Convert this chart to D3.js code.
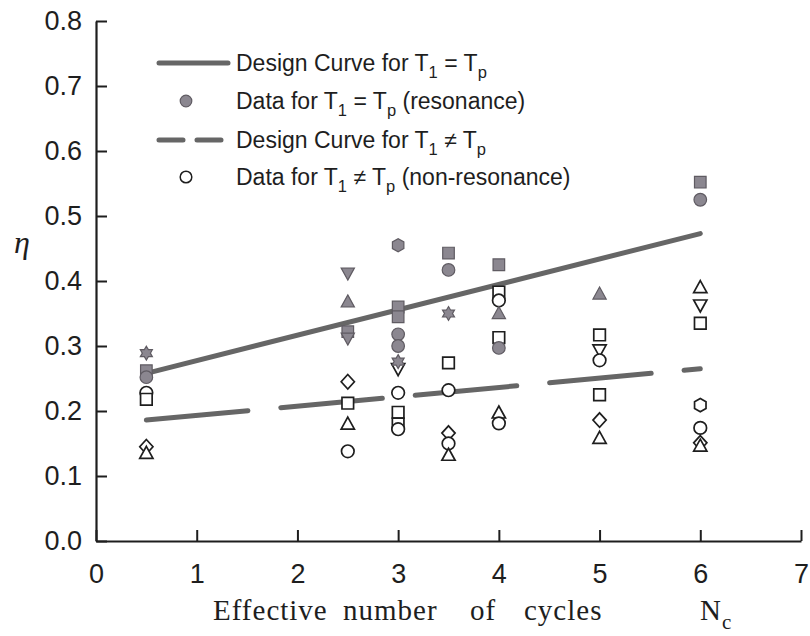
<!DOCTYPE html>
<html>
<head>
<meta charset="utf-8">
<script src="https://cdn.jsdelivr.net/npm/d3@7/dist/d3.min.js"></script>
<style>
  html, body { margin: 0; padding: 0; background: #fff; }
  svg { display: block; }
  .tick text { font-family: 'Liberation Sans', Arial, sans-serif; font-size: 27px; }
</style>
</head>
<body>
<svg id="chart" width="810" height="636"></svg>
<script>
// Axis ticks
const xTicks = [0, 1, 2, 3, 4, 5, 6, 7];
const yTicks = [0.0, 0.1, 0.2, 0.3, 0.4, 0.5, 0.6, 0.7, 0.8];

// Design curves (straight lines between the end points)
const designX = [0.5, 6];
const designResonance = [0.258, 0.473];
const designNonResonance = [0.186, 0.265];

// Test data: [Nc, eta, marker]
const resonanceData = [
  [0.5, 0.289, "star6"], [0.5, 0.262, "square"], [0.5, 0.252, "circle"],
  [2.5, 0.412, "triangleDown"], [2.5, 0.368, "triangle"], [2.5, 0.322, "square"], [2.5, 0.312, "triangleDown"],
  [3, 0.455, "hexagon"], [3, 0.360, "square"], [3, 0.345, "square"], [3, 0.318, "circle"], [3, 0.300, "circle"], [3, 0.276, "star6"],
  [3.5, 0.443, "square"], [3.5, 0.417, "circle"], [3.5, 0.350, "star6"],
  [4, 0.425, "square"], [4, 0.350, "triangle"], [4, 0.297, "circle"],
  [5, 0.380, "triangle"],
  [6, 0.552, "square"], [6, 0.525, "circle"]
];
const nonResonanceData = [
  [0.5, 0.228, "circle"], [0.5, 0.218, "square"], [0.5, 0.145, "diamond"], [0.5, 0.135, "triangle"],
  [2.5, 0.245, "diamond"], [2.5, 0.212, "square"], [2.5, 0.180, "triangle"], [2.5, 0.138, "circle"],
  [3, 0.265, "triangleDown"], [3, 0.228, "circle"], [3, 0.198, "square"], [3, 0.180, "square"], [3, 0.172, "circle"],
  [3.5, 0.274, "square"], [3.5, 0.232, "circle"], [3.5, 0.166, "diamond"], [3.5, 0.150, "circle"], [3.5, 0.132, "triangle"],
  [4, 0.383, "square"], [4, 0.370, "circle"], [4, 0.313, "square"], [4, 0.197, "triangle"], [4, 0.181, "circle"],
  [5, 0.317, "square"], [5, 0.294, "triangleDown"], [5, 0.278, "circle"], [5, 0.225, "square"], [5, 0.186, "diamond"], [5, 0.158, "triangle"],
  [6, 0.390, "triangle"], [6, 0.363, "triangleDown"], [6, 0.335, "square"], [6, 0.209, "hexagon"], [6, 0.174, "circle"], [6, 0.151, "diamond"], [6, 0.146, "triangle"]
];

const svg = d3.select("#chart");
const x = d3.scaleLinear().domain([0, 7]).range([96, 801]);
const y = d3.scaleLinear().domain([0, 0.8]).range([541, 21]);

const ink = "#1e1e1e";
const lineGrey = "#666";
const fillGrey = "#8b8790";
const edgeGrey = "#5f5b62";
const sans = "'Liberation Sans', Arial, sans-serif";
const serif = "'Liberation Serif', 'Times New Roman', serif";

// Marker shapes as d3 symbol types (size is used as a radius here)
function poly(ctx, pts) {
  ctx.moveTo(pts[0][0], pts[0][1]);
  for (let i = 1; i < pts.length; i++) ctx.lineTo(pts[i][0], pts[i][1]);
  ctx.closePath();
}
const shapes = {
  circle: { draw(ctx, r) { ctx.moveTo(r, 0); ctx.arc(0, 0, r, 0, 2 * Math.PI); } },
  square: { draw(ctx, r) { const s = r * 0.92; poly(ctx, [[-s, -s], [s, -s], [s, s], [-s, s]]); } },
  triangle: { draw(ctx, r) { poly(ctx, [[0, -r * 1.1], [r * 1.05, r * 0.8], [-r * 1.05, r * 0.8]]); } },
  triangleDown: { draw(ctx, r) { poly(ctx, [[0, r * 1.1], [r * 1.05, -r * 0.8], [-r * 1.05, -r * 0.8]]); } },
  diamond: { draw(ctx, r) { poly(ctx, [[0, -r * 1.15], [r * 1.05, 0], [0, r * 1.15], [-r * 1.05, 0]]); } },
  hexagon: { draw(ctx, r) {
    const pts = d3.range(6).map(i => { const a = Math.PI / 6 + i * Math.PI / 3; return [r * 1.05 * Math.cos(a), r * 1.05 * Math.sin(a)]; });
    poly(ctx, pts);
  } },
  star6: { draw(ctx, r) {
    const R = r * 1.1;
    const pts = d3.range(12).map(i => { const a = -Math.PI / 2 + i * Math.PI / 6; const rr = i % 2 ? R * 0.58 : R; return [rr * Math.cos(a), rr * Math.sin(a)]; });
    poly(ctx, pts);
  } }
};
const symbolPath = (name, r) => d3.symbol().type(shapes[name]).size(r)();

// Axes
const yAxis = d3.axisLeft(y).tickValues(yTicks).tickFormat(d3.format(".1f"))
  .tickSizeInner(-11).tickSizeOuter(0).tickPadding(14);
const xAxis = d3.axisBottom(x).tickValues(xTicks).tickFormat(d3.format("d"))
  .tickSizeInner(-11).tickSizeOuter(0).tickPadding(23);

const gy = svg.append("g").attr("transform", "translate(96,0)").call(yAxis);
const gx = svg.append("g").attr("transform", "translate(0,541)").call(xAxis);
[gx, gy].forEach(g => {
  g.attr("font-size", 27).attr("font-family", sans);
  g.select(".domain").attr("stroke", ink).attr("stroke-width", 2.2);
  g.selectAll(".tick line").attr("stroke", ink).attr("stroke-width", 2);
  g.selectAll(".tick text").attr("fill", ink).attr("font-size", 27);
});

// Design curves
const line = d3.line().x(d => x(d[0])).y(d => y(d[1]));
svg.append("path")
  .datum(designX.map((v, i) => [v, designResonance[i]]))
  .attr("d", line).attr("fill", "none").attr("stroke", lineGrey)
  .attr("stroke-width", 5).attr("stroke-linecap", "round");
svg.append("path")
  .datum(designX.map((v, i) => [v, designNonResonance[i]]))
  .attr("d", line).attr("fill", "none").attr("stroke", lineGrey)
  .attr("stroke-width", 5).attr("stroke-linecap", "round")
  .attr("stroke-dasharray", "102,33");

// Data markers: open first, filled on top
svg.append("g").selectAll("path").data(nonResonanceData).join("path")
  .attr("transform", d => `translate(${x(d[0])},${y(d[1])})`)
  .attr("d", d => symbolPath(d[2], 6.3))
  .attr("fill", "#fff").attr("stroke", ink).attr("stroke-width", 1.7);
svg.append("g").selectAll("path").data(resonanceData).join("path")
  .attr("transform", d => `translate(${x(d[0])},${y(d[1])})`)
  .attr("d", d => symbolPath(d[2], 6.3))
  .attr("fill", fillGrey).attr("stroke", edgeGrey).attr("stroke-width", 1.2);

// Legend
const legend = svg.append("g");
const rows = [
  { yy: 63, kind: "solid", parts: ["Design Curve for T", "1", " = T", "p", ""] },
  { yy: 101, kind: "filled", parts: ["Data for T", "1", " = T", "p", "  (resonance)"] },
  { yy: 140, kind: "dashed", parts: ["Design Curve for T", "1", " \u2260 T", "p", ""] },
  { yy: 177, kind: "open", parts: ["Data for T", "1", " \u2260 T", "p", " (non-resonance)"] }
];
rows.forEach(r => {
  if (r.kind === "solid") {
    legend.append("line").attr("x1", 159).attr("x2", 228).attr("y1", r.yy).attr("y2", r.yy)
      .attr("stroke", lineGrey).attr("stroke-width", 5).attr("stroke-linecap", "round");
  } else if (r.kind === "dashed") {
    legend.append("line").attr("x1", 159).attr("x2", 228).attr("y1", r.yy).attr("y2", r.yy)
      .attr("stroke", lineGrey).attr("stroke-width", 5).attr("stroke-linecap", "round")
      .attr("stroke-dasharray", "24,14");
  } else if (r.kind === "filled") {
    legend.append("path").attr("transform", `translate(186,${r.yy})`)
      .attr("d", symbolPath("circle", 5.8)).attr("fill", fillGrey).attr("stroke", edgeGrey).attr("stroke-width", 1.2);
  } else {
    legend.append("path").attr("transform", `translate(186,${r.yy})`)
      .attr("d", symbolPath("circle", 5.8)).attr("fill", "#fff").attr("stroke", ink).attr("stroke-width", 1.5);
  }
  const t = legend.append("text").attr("x", 236).attr("y", r.yy + 8)
    .style("font-family", sans).style("font-size", "23px").attr("fill", ink);
  t.append("tspan").text(r.parts[0]);
  t.append("tspan").attr("dy", 7).style("font-size", "16.5px").text(r.parts[1]);
  t.append("tspan").attr("dy", -7).text(r.parts[2]);
  t.append("tspan").attr("dy", 7).style("font-size", "16.5px").text(r.parts[3]);
  t.append("tspan").attr("dy", -7).text(r.parts[4]);
});

// Axis titles
svg.append("text").attr("x", 22).attr("y", 253).attr("text-anchor", "middle")
  .style("font-family", serif)
  .style("font-style", "italic").style("font-size", "32px").attr("fill", ink).text("\u03B7");

const titleWords = [
  { text: "Effective", at: 213 },
  { text: "number", at: 343 },
  { text: "of", at: 470 },
  { text: "cycles", at: 524 },
  { text: "N", at: 700 }
];
const xt = svg.append("text").attr("y", 620)
  .style("font-family", serif).style("font-size", "29px").attr("fill", ink);
titleWords.forEach(w => {
  xt.append("tspan").attr("x", w.at).attr("y", 620).style("letter-spacing", "1px").text(w.text);
});
xt.append("tspan").attr("dy", 9).style("font-size", "21px").text("c");
</script>
</body>
</html>
